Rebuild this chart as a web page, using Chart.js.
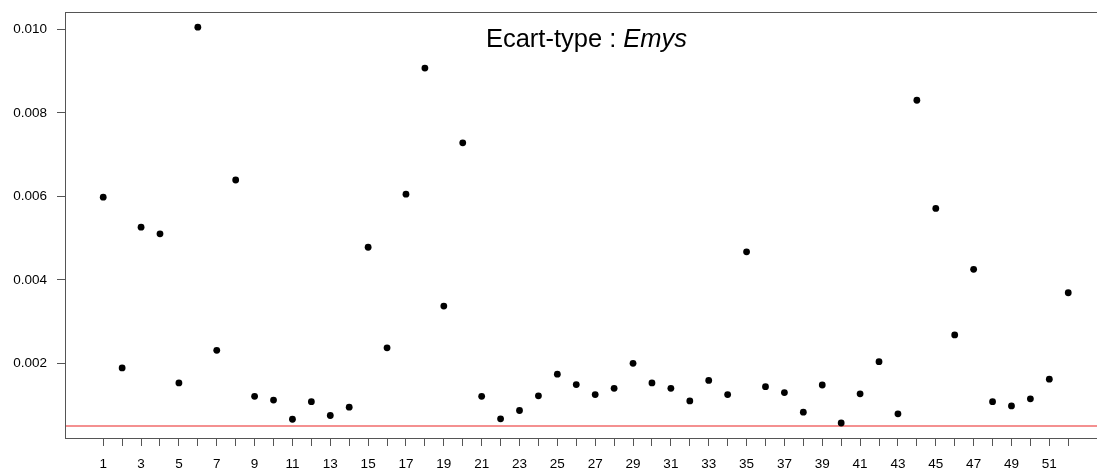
<!DOCTYPE html>
<html>
<head>
<meta charset="utf-8">
<script src="https://cdn.jsdelivr.net/npm/chart.js@4"></script>
<style>
  body { margin: 0; background: #fff; overflow: hidden; }
  #wrap { width: 1097px; height: 473px; position: relative; }
</style>
</head>
<body>
<div id="wrap"><canvas id="myChart"></canvas></div>
<script>
// index of each series (x axis)
const plotIndex = [1, 2, 3, 4, 5, 6, 7, 8, 9, 10, 11, 12, 13, 14, 15, 16, 17, 18, 19, 20,
    21, 22, 23, 24, 25, 26, 27, 28, 29, 30, 31, 32, 33, 34, 35, 36, 37, 38, 39, 40,
    41, 42, 43, 44, 45, 46, 47, 48, 49, 50, 51, 52];
// standard deviation for each index
const sdValues = [0.00598, 0.00189, 0.00526, 0.00510, 0.00153, 0.01005, 0.00231, 0.00639,
    0.00121, 0.00112, 0.00066, 0.00108, 0.00075, 0.00095, 0.00478, 0.00237, 0.00605,
    0.00907, 0.00337, 0.00728, 0.00121, 0.00067, 0.00087, 0.00122, 0.00174, 0.00149,
    0.00125, 0.00140, 0.00200, 0.00153, 0.00140, 0.00110, 0.00159, 0.00125, 0.00467,
    0.00144, 0.00130, 0.00083, 0.00148, 0.00057, 0.00127, 0.00204, 0.00079, 0.00830,
    0.00571, 0.00268, 0.00425, 0.00108, 0.00098, 0.00115, 0.00162, 0.00369];
const threshold = 0.0005;
const yTicks = [0.002, 0.004, 0.006, 0.008, 0.010];
const xTickLabels = ["1", "", "3", "", "5", "", "7", "", "9", "", "11", "", "13", "", "15", "",
    "17", "", "19", "", "21", "", "23", "", "25", "", "27", "", "29", "", "31", "", "33", "",
    "35", "", "37", "", "39", "", "41", "", "43", "", "45", "", "47", "", "49", "", "51", ""];

const X_MIN = -1.02, X_MAX = 53.52;
const Y_MIN = 0.000211, Y_MAX = 0.010414;
const FONT = "'Liberation Sans', Arial, sans-serif";

// no extra label padding, the plot box is fixed like in R
const noPad = (scale) => {
    scale.paddingTop = 0;
    scale.paddingBottom = 0;
    scale.paddingLeft = 0;
    scale.paddingRight = 0;
};

const boxPlugin = {
    id: "rBox",
    afterDraw: (chart) => {
        const ctx = chart.ctx;
        const { left, top, right, bottom } = chart.chartArea;
        ctx.save();
        ctx.strokeStyle = "#555";
        ctx.lineWidth = 1;
        ctx.strokeRect(left + 0.5, top + 0.5, right - left, bottom - top);
        // title, with the genus in italics
        const a = "Ecart-type : ", b = "Emys";
        ctx.fillStyle = "#000";
        ctx.textBaseline = "alphabetic";
        ctx.font = "25.5px " + FONT;
        const wa = ctx.measureText(a).width;
        ctx.font = "italic 25.5px " + FONT;
        const wb = ctx.measureText(b).width;
        const x0 = 586.5 - (wa + wb) / 2;
        ctx.font = "25.5px " + FONT;
        ctx.fillText(a, x0, 47);
        ctx.font = "italic 25.5px " + FONT;
        ctx.fillText(b, x0 + wa, 47);
        ctx.restore();
    },
};

document.addEventListener("DOMContentLoaded", () => {
    const ctx = document.getElementById("myChart").getContext("2d");
    new Chart(ctx, {
        type: "scatter",
        data: {
            datasets: [
                {
                    data: plotIndex.map((x, i) => ({ x: x, y: sdValues[i] })),
                    backgroundColor: "#000",
                    borderColor: "#000",
                    pointRadius: 3.4,
                    pointBorderWidth: 0,
                },
                {
                    type: "line",
                    data: [{ x: X_MIN, y: threshold }, { x: X_MAX, y: threshold }],
                    borderColor: "#f06b6b",
                    borderWidth: 1.5,
                    pointRadius: 0,
                    fill: false,
                },
            ],
        },
        options: {
            responsive: true,
            maintainAspectRatio: false,
            animation: false,
            layout: {
                autoPadding: false,
                padding: { left: 0, top: 12, right: 0, bottom: 0 },
            },
            plugins: {
                legend: { display: false },
                tooltip: { enabled: false },
                title: { display: false },
            },
            scales: {
                x: {
                    type: "linear",
                    min: X_MIN,
                    max: X_MAX,
                    border: { display: false },
                    grid: {
                        drawOnChartArea: false,
                        drawTicks: true,
                        tickLength: 8,
                        color: "#555",
                    },
                    afterBuildTicks: (scale) => {
                        scale.ticks = plotIndex.map((v) => ({ value: v }));
                    },
                    afterFit: (scale) => { scale.height = 35; noPad(scale); },
                    ticks: {
                        autoSkip: false,
                        maxRotation: 0,
                        padding: 10,
                        color: "#000",
                        font: { family: FONT, size: 13.5 },
                        callback: (value, index) => xTickLabels[index],
                    },
                },
                y: {
                    type: "linear",
                    min: Y_MIN,
                    max: Y_MAX,
                    border: { display: false },
                    grid: {
                        drawOnChartArea: false,
                        drawTicks: true,
                        tickLength: 8,
                        color: "#555",
                    },
                    afterBuildTicks: (scale) => {
                        scale.ticks = yTicks.map((v) => ({ value: v }));
                    },
                    afterFit: (scale) => { scale.width = 65; noPad(scale); },
                    ticks: {
                        padding: 10,
                        color: "#000",
                        font: { family: FONT, size: 13.5 },
                        callback: (value) => value.toFixed(3),
                    },
                },
            },
        },
        plugins: [boxPlugin],
    });
});
</script>
</body>
</html>
